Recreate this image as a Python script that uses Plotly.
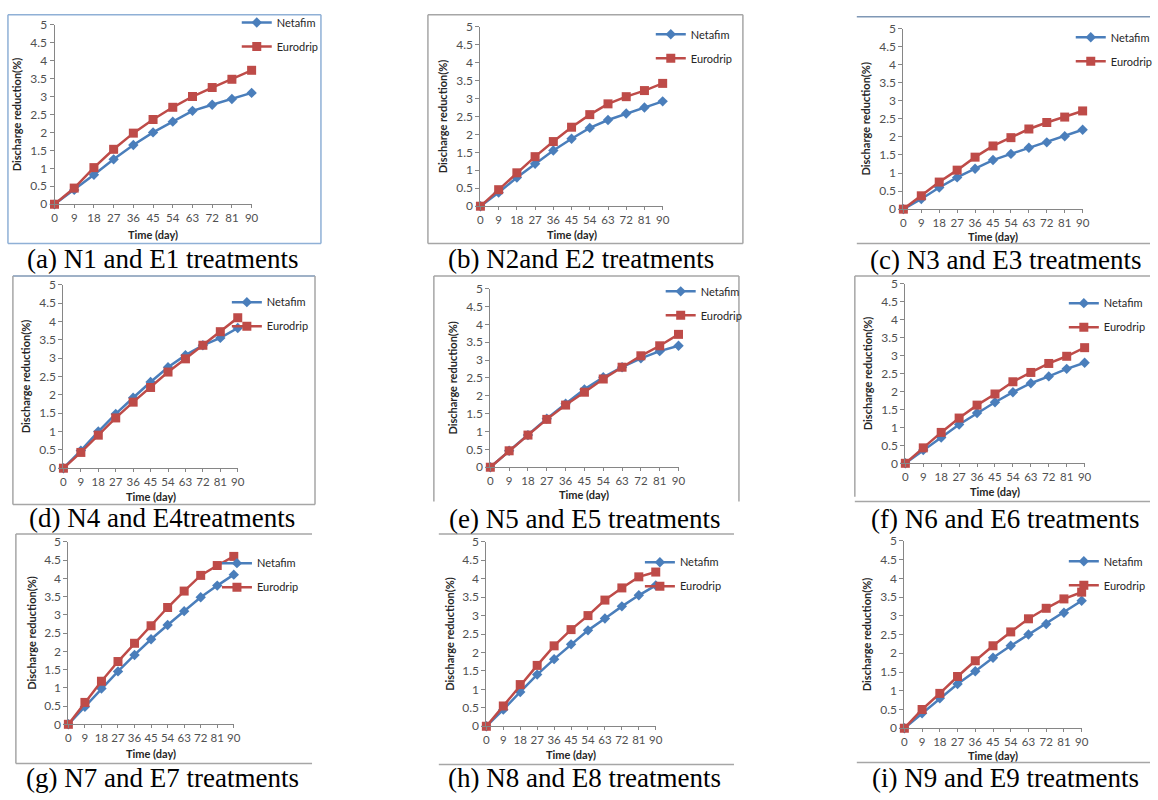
import plotly.graph_objects as go

W, H = 1158, 800

days = [0, 9, 18, 27, 36, 45, 54, 63, 72, 81, 90]

netafim_n1 = [0, 0.40, 0.82, 1.25, 1.65, 2.00, 2.30, 2.60, 2.77, 2.93, 3.10]
eurodrip_e1 = [0, 0.45, 1.02, 1.53, 1.98, 2.36, 2.70, 3.00, 3.25, 3.48, 3.73]
netafim_n2 = [0, 0.38, 0.80, 1.18, 1.55, 1.88, 2.18, 2.40, 2.58, 2.75, 2.92]
eurodrip_e2 = [0, 0.46, 0.93, 1.38, 1.80, 2.20, 2.55, 2.85, 3.05, 3.22, 3.42]
netafim_n3 = [0, 0.28, 0.60, 0.88, 1.12, 1.36, 1.53, 1.70, 1.85, 2.02, 2.20]
eurodrip_e3 = [0, 0.37, 0.75, 1.08, 1.44, 1.75, 1.98, 2.22, 2.40, 2.55, 2.72]
netafim_n4 = [0, 0.48, 1.00, 1.48, 1.92, 2.35, 2.75, 3.08, 3.35, 3.55, 3.82]
eurodrip_e4 = [0, 0.43, 0.90, 1.37, 1.80, 2.20, 2.62, 2.98, 3.35, 3.72, 4.10]
netafim_n5 = [0, 0.46, 0.90, 1.36, 1.78, 2.18, 2.52, 2.80, 3.05, 3.25, 3.40]
eurodrip_e5 = [0, 0.46, 0.90, 1.34, 1.74, 2.10, 2.47, 2.80, 3.12, 3.40, 3.72]
netafim_n6 = [0, 0.37, 0.72, 1.08, 1.40, 1.70, 1.98, 2.23, 2.42, 2.63, 2.80]
eurodrip_e6 = [0, 0.43, 0.86, 1.26, 1.62, 1.93, 2.27, 2.53, 2.78, 2.98, 3.22]
netafim_n7 = [0, 0.48, 0.98, 1.45, 1.90, 2.33, 2.72, 3.10, 3.48, 3.80, 4.10]
eurodrip_e7 = [0, 0.60, 1.18, 1.72, 2.22, 2.70, 3.20, 3.65, 4.08, 4.35, 4.60]
netafim_n8 = [0, 0.45, 0.93, 1.40, 1.82, 2.22, 2.60, 2.92, 3.25, 3.55, 3.82]
eurodrip_e8 = [0, 0.55, 1.13, 1.65, 2.18, 2.62, 3.00, 3.42, 3.75, 4.05, 4.18]
netafim_n9 = [0, 0.40, 0.80, 1.18, 1.52, 1.88, 2.20, 2.50, 2.78, 3.08, 3.40]
eurodrip_e9 = [0, 0.50, 0.93, 1.38, 1.80, 2.20, 2.57, 2.92, 3.20, 3.45, 3.63]

captions = [
    "(a) N1 and E1 treatments", "(b) N2and E2 treatments", "(c) N3 and E3 treatments",
    "(d) N4 and E4treatments", "(e) N5 and E5 treatments", "(f) N6 and E6 treatments",
    "(g) N7 and E7 treatments", "(h) N8 and E8 treatments", "(i) N9 and E9 treatments",
]
y_ticks = [0, 0.5, 1, 1.5, 2, 2.5, 3, 3.5, 4, 4.5, 5]
y_tick_text = ["0", "0.5", "1", "1.5", "2", "2.5", "3", "3.5", "4", "4.5", "5"]
series_names = ["Netafim", "Eurodrip"]

netafim = [netafim_n1, netafim_n2, netafim_n3, netafim_n4, netafim_n5,
           netafim_n6, netafim_n7, netafim_n8, netafim_n9]
eurodrip = [eurodrip_e1, eurodrip_e2, eurodrip_e3, eurodrip_e4, eurodrip_e5,
            eurodrip_e6, eurodrip_e7, eurodrip_e8, eurodrip_e9]

# layout (pixels): x of origin, x of day 90, y of 0, y of 5
panels = [
    (52, 251, 200, 17), (482, 666, 202, 19), (909, 1090, 205, 21),
    (61, 237, 469, 282), (492, 682, 468, 286), (911, 1092, 464, 281),
    (66, 233, 730, 544), (488, 659, 732, 544), (910, 1089, 734, 543),
]
xtitle_gap = [31, 29, 28, 29, 28, 29, 30, 29, 28]
# (text start x, first item centre y) in pixels
legend_ref = [(268, 22), (686, 34), (1110, 37), (258, 307), (696, 296), (1103, 308),
              (248, 573), (675, 572), (1103, 571)]
caption_pos = [(161, 256), (584, 256), (1012, 257), (161, 520), (587, 521), (1012, 521),
               (161, 785), (587, 785), (1012, 785)]

def px(x):
    return x / W

def py(y):
    return 1 - y / H

BLUE = "#4a7ebb"
RED = "#be4b48"
SANS = "Lato, Open Sans, sans-serif"
YTICKFONT = dict(family=SANS, size=12, color="#505050")
XTICKFONT = dict(family=SANS, size=11.5, color="#505050")

fig = go.Figure()
annotations = []
layout = {}

for i in range(9):
    n = i + 1
    xa = "x" if n == 1 else f"x{n}"
    ya = "y" if n == 1 else f"y{n}"
    lg = "legend" if n == 1 else f"legend{n}"
    x0, x90, y0, y5 = panels[i]
    fig.add_trace(go.Scatter(
        x=days, y=netafim[i], name=series_names[0], mode="lines+markers",
        line=dict(color=BLUE, width=2.5), marker=dict(symbol="diamond", size=8, color=BLUE),
        xaxis=xa, yaxis=ya, legend=lg, legendgroup=f"n{n}", cliponaxis=False))
    fig.add_trace(go.Scatter(
        x=days, y=eurodrip[i], name=series_names[1], mode="lines+markers",
        line=dict(color=RED, width=2.5), marker=dict(symbol="square", size=9, color=RED),
        xaxis=xa, yaxis=ya, legend=lg, legendgroup=f"e{n}", cliponaxis=False))

    key_x = "xaxis" if n == 1 else f"xaxis{n}"
    key_y = "yaxis" if n == 1 else f"yaxis{n}"
    layout[key_x] = dict(
        domain=[px(x0), px(x90)], range=[0, 90], anchor=ya,
        tickmode="array", tickvals=days, ticktext=[str(d) for d in days],
        ticks="outside", ticklen=3, tickcolor="#868686", tickfont=XTICKFONT,
        showline=True, linecolor="#868686", linewidth=1, showgrid=False, zeroline=False,
        fixedrange=True,
    )
    layout[key_y] = dict(
        domain=[py(y0), py(y5)], range=[0, 5], anchor=xa,
        tickmode="array", tickvals=y_ticks, ticktext=y_tick_text,
        ticks="outside", ticklen=4, tickcolor="#868686", tickfont=YTICKFONT,
        showline=True, linecolor="#868686", linewidth=1, showgrid=False, zeroline=False,
        fixedrange=True,
    )
    tx, ty = legend_ref[i]
    layout[lg] = dict(
        x=px(tx - 32), y=py(ty - 22), xanchor="left", yanchor="top",
        bgcolor="rgba(0,0,0,0)", font=dict(family=SANS, size=11, color="#262626"),
        itemwidth=30, tracegroupgap=5, traceorder="grouped",
    )
    annotations.append(dict(
        text="<b>Time (day)</b>", x=px((x0 + x90) / 2), y=py(y0 + xtitle_gap[i]), xref="paper", yref="paper",
        showarrow=False, font=dict(family=SANS, size=11, color="#262626"),
        xanchor="center", yanchor="middle"))
    annotations.append(dict(
        text="<b>Discharge reduction(%)</b>", x=px(x0 - 38), y=py((y0 + y5) / 2), xref="paper", yref="paper",
        showarrow=False, textangle=-90,
        font=dict(family=SANS, size=11, color="#262626"),
        xanchor="center", yanchor="middle"))
    cx, cy = caption_pos[i]
    annotations.append(dict(
        text=captions[i], x=px(cx), y=py(cy), xref="paper", yref="paper", showarrow=False,
        font=dict(family="Liberation Serif, Times New Roman, serif", size=27, color="#000000"),
        xanchor="center", yanchor="middle"))

frame_lines = [
    (5, 7, 321, 7, "#8fb0d6"), (5, 7, 5, 240, "#8fb0d6"), (321, 7, 321, 240, "#8fb0d6"), (5, 240, 321, 240, "#8fb0d6"),
    (429, 7, 747, 7, "#a6a6a6"), (429, 7, 429, 240, "#a6a6a6"), (747, 7, 747, 240, "#a6a6a6"), (429, 240, 747, 240, "#a6a6a6"),
    (862, 9, 1158, 9, "#7f97b5"), (862, 240, 1158, 240, "#a6a6a6"),
    (10, 273, 315, 273, "#7f97b5"), (10, 273, 10, 506, "#a6a6a6"), (315, 273, 315, 506, "#a6a6a6"), (10, 506, 315, 506, "#a6a6a6"),
    (435, 273, 743, 273, "#a6a6a6"), (435, 273, 435, 503, "#a6a6a6"), (743, 273, 743, 503, "#a6a6a6"),
    (860, 273, 1158, 273, "#a6a6a6"), (860, 273, 860, 498, "#a6a6a6"), (860, 503, 1158, 503, "#a6a6a6"),
    (13, 536, 312, 536, "#a6a6a6"), (13, 536, 13, 770, "#a6a6a6"), (13, 770, 312, 770, "#a6a6a6"),
    (440, 536, 738, 536, "#a6a6a6"), (440, 771, 738, 771, "#a6a6a6"),
    (862, 769, 1158, 769, "#a6a6a6"),
]
shapes = []
for (xa_, ya_, xb_, yb_, col) in frame_lines:
    shapes.append(dict(type="line", xref="paper", yref="paper",
                       x0=px(xa_), y0=py(ya_), x1=px(xb_), y1=py(yb_),
                       line=dict(color=col, width=1.5), layer="below"))

fig.update_layout(
    width=W, height=H, margin=dict(l=0, r=0, t=0, b=0),
    paper_bgcolor="white", plot_bgcolor="white",
    annotations=annotations, shapes=shapes, showlegend=True,
    **layout,
)

fig.write_html("out.html", config={"displayModeBar": False},
               post_script="document.body.style.margin='0';")
